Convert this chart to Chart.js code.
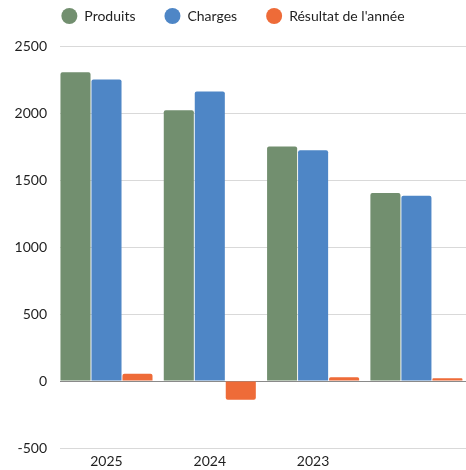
<!DOCTYPE html>
<html>
<head>
<meta charset="utf-8">
<script src="https://cdn.jsdelivr.net/npm/chart.js@4"></script>
<style>
  html, body { margin: 0; padding: 0; background: #fff; overflow: hidden; }
  #wrap { position: relative; width: 466px; height: 470px; overflow: hidden; }
  #chart { position: absolute; left: 0; top: -20px; }
</style>
</head>
<body>
<div id="wrap"><canvas id="chart" width="466" height="490"></canvas></div>
<script>
// Années (la dernière colonne n'a pas d'étiquette)
const annees = ['2025', '2024', '2023', ''];
const produits = [2305, 2020, 1750, 1403];
const charges = [2250, 2160, 1722, 1383];
const resultat = [55, -140, 28, 20];
const yTicks = [-500, 0, 500, 1000, 1500, 2000, 2500];

const police = 'Lato';
const points = (vals) => vals.map((v, i) => ({ x: i, y: v }));

new Chart(document.getElementById('chart'), {
  type: 'bar',
  data: {
    datasets: [
      { label: 'Produits', data: points(produits), backgroundColor: '#728f6f' },
      { label: 'Charges', data: points(charges), backgroundColor: '#4e86c6' },
      { label: "Résultat de l'année", data: points(resultat), backgroundColor: '#ee6b38' },
    ],
  },
  options: {
    responsive: false,
    animation: false,
    categoryPercentage: 0.9,
    barPercentage: 0.97,
    borderRadius: 2,
    borderWidth: 0,
    layout: { padding: 0 },
    plugins: {
      tooltip: { enabled: false },
      // titre vide : sert juste d'espace entre la légende et le graphique
      title: {
        display: true,
        text: '',
        weight: 500,
        padding: 0,
        font: { size: 10, lineHeight: 1.3 },
      },
      legend: {
        position: 'top',
        weight: 3000,
        labels: {
          usePointStyle: true,
          pointStyle: 'circle',
          pointStyleWidth: 16,
          boxHeight: 11.3,
          padding: 29,
          color: '#1f1f1f',
          font: { family: police, size: 14 },
        },
      },
    },
    scales: {
      x: {
        type: 'linear',
        min: -0.45,
        max: 3.48,
        offset: false,
        grid: { display: false },
        border: { display: false },
        ticks: {
          stepSize: 1,
          includeBounds: false,
          padding: -3,
          color: '#1f1f1f',
          font: { family: police, size: 14 },
          callback: (v) => (Number.isInteger(v) ? annees[v] ?? '' : ''),
        },
        afterFit: (s) => { s.height = 22; },
      },
      y: {
        min: yTicks[0],
        max: yTicks[yTicks.length - 1],
        border: { display: false },
        grid: {
          drawTicks: false,
          color: (c) => (c.tick && c.tick.value === 0 ? '#8a8a8a' : '#d9d9d9'),
        },
        afterBuildTicks: (s) => { s.ticks = yTicks.map((v) => ({ value: v })); },
        ticks: {
          padding: 13,
          color: '#1f1f1f',
          font: { family: police, size: 14 },
          callback: (v) => String(v),
        },
        afterFit: (s) => { s.width = 60; },
      },
    },
  },
});
</script>
</body>
</html>
